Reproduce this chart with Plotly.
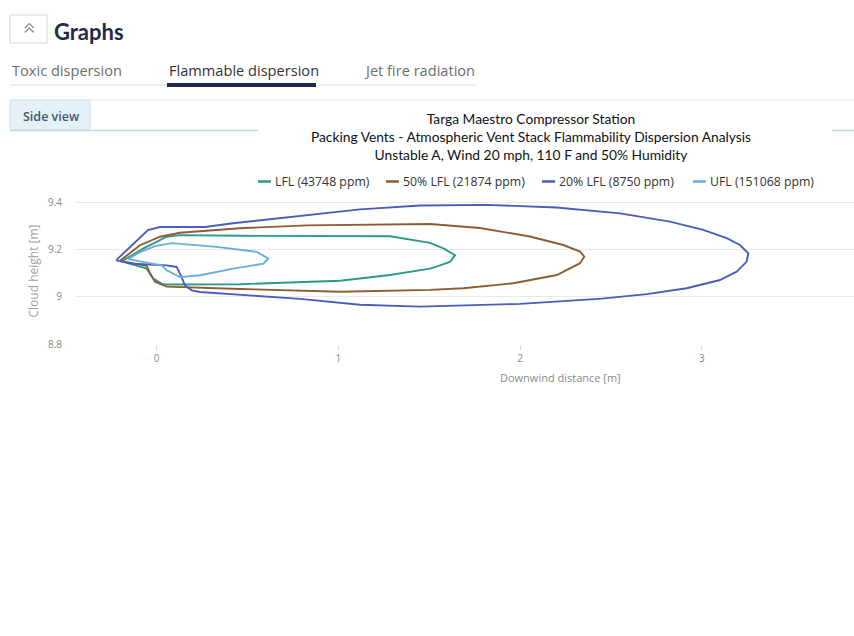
import plotly.graph_objects as go

# ---- contour data: downwind distance [m] vs cloud height [m] ----
series_names = ["LFL (43748 ppm)", "50% LFL (21874 ppm)", "20% LFL (8750 ppm)", "UFL (151068 ppm)"]
series_colors = ["#2a9a8a", "#8e5c33", "#4b5dba", "#67aedb"]

lfl_x = [-0.193, -0.074, 0.055, 0.128, 0.458, 1.284, 1.504, 1.578, 1.642, 1.614, 1.559, 1.504,
         1.284, 1.009, 0.458, 0.128, 0.036, -0.019, -0.055, -0.193]
lfl_y = [9.150, 9.204, 9.254, 9.261, 9.258, 9.256, 9.228, 9.205, 9.176, 9.147, 9.133, 9.119,
         9.092, 9.068, 9.053, 9.051, 9.052, 9.077, 9.119, 9.150]

lfl50_x = [-0.202, -0.092, 0.018, 0.128, 0.458, 0.826, 1.504, 1.779, 2.054, 2.238, 2.330, 2.353,
           2.330, 2.202, 1.963, 1.687, 1.504, 1.009, 0.458, 0.146, 0.055, -0.009, -0.037, -0.055, -0.202]
lfl50_y = [9.152, 9.218, 9.254, 9.271, 9.290, 9.302, 9.308, 9.291, 9.255, 9.219, 9.191, 9.170,
           9.142, 9.092, 9.057, 9.036, 9.029, 9.021, 9.033, 9.039, 9.043, 9.064, 9.099, 9.131, 9.152]

lfl20_x = [-0.224, -0.048, 0.018, 0.266, 0.420, 0.679, 1.119, 1.449, 1.816, 2.200, 2.550, 2.825,
           3.008, 3.137, 3.210, 3.256, 3.247, 3.192, 3.100, 2.917, 2.697, 2.450, 2.000, 1.449,
           1.119, 0.789, 0.514, 0.238, 0.193, 0.156, 0.128, 0.110, 0.055, -0.129, -0.224]
lfl20_y = [9.154, 9.282, 9.295, 9.295, 9.311, 9.333, 9.370, 9.386, 9.389, 9.378, 9.353, 9.318,
           9.283, 9.248, 9.219, 9.184, 9.149, 9.106, 9.071, 9.036, 9.011, 8.992, 8.970, 8.958,
           8.966, 8.991, 9.007, 9.020, 9.027, 9.048, 9.098, 9.126, 9.133, 9.140, 9.154]

ufl_x = [-0.158, -0.092, -0.009, 0.083, 0.330, 0.550, 0.614, 0.587, 0.422, 0.238, 0.128,
         0.055, 0.028, -0.037, -0.158]
ufl_y = [9.159, 9.189, 9.214, 9.227, 9.211, 9.190, 9.162, 9.140, 9.119, 9.091, 9.083,
         9.112, 9.133, 9.142, 9.159]

series_x = [lfl_x, lfl50_x, lfl20_x, ufl_x]
series_y = [lfl_y, lfl50_y, lfl20_y, ufl_y]

x_ticks = [0, 1, 2, 3]
y_ticks = [8.8, 9.0, 9.2, 9.4]
y_tick_text = ["8.8", "9", "9.2", "9.4"]

title_lines = ["Targa Maestro Compressor Station",
               "Packing Vents - Atmospheric Vent Stack Flammability Dispersion Analysis",
               "Unstable A, Wind 20 mph, 110 F and 50% Humidity"]
tab_labels = ["Toxic dispersion", "Flammable dispersion", "Jet fire radiation"]

# ---- page geometry (pixels) ----
W, H = 854, 636
L, R, T, B = 75, 0, 198, 292
PW = W - L - R
PH = H - T - B
BOTTOM = H - B


def fx(p):
    return (p - L) / PW


def fy(p):
    return (BOTTOM - p) / PH


fig = go.Figure()
for name, color, xs, ys in zip(series_names, series_colors, series_x, series_y):
    fig.add_trace(go.Scatter(x=xs, y=ys, mode="lines", name=name,
                             line=dict(color=color, width=1.9), showlegend=False,
                             hoverinfo="skip"))

shapes = []
annotations = []

# collapse button with double chevron
shapes.append(dict(type="rect", xref="paper", yref="paper", x0=fx(10), x1=fx(47), y0=fy(15), y1=fy(43),
                   line=dict(color="#c9d9e4", width=1), fillcolor="white", layer="above"))
for top in (23.5, 28.0):
    shapes.append(dict(type="path", xref="paper", yref="paper",
                       path="M %f,%f L %f,%f L %f,%f" % (fx(24.8), fy(top + 4.5), fx(29.3), fy(top),
                                                           fx(33.8), fy(top + 4.5)),
                       line=dict(color="#8a8a8a", width=1.2)))
annotations.append(dict(text="Graphs", xref="paper", yref="paper", x=fx(52), y=fy(31),
                        xanchor="left", yanchor="middle", showarrow=False,
                        font=dict(family="Lato", size=22, color="#1c2b4a", weight="bold")))

# tabs
shapes.append(dict(type="line", xref="paper", yref="paper", x0=fx(10), x1=fx(476), y0=fy(85), y1=fy(85),
                   line=dict(color="#eceff2", width=2)))
shapes.append(dict(type="rect", xref="paper", yref="paper", x0=fx(167), x1=fx(316), y0=fy(83), y1=fy(87),
                   line=dict(width=0), fillcolor="#1b2a4c"))
for label, xpos, col in zip(tab_labels, (10, 167, 362), ("#6e6e6e", "#333333", "#6e6e6e")):
    annotations.append(dict(text=label, xref="paper", yref="paper", x=fx(xpos), y=fy(70),
                            xanchor="left", yanchor="middle", showarrow=False,
                            font=dict(family="Open Sans", size=14.6, color=col)))

# side view selector strip
shapes.append(dict(type="line", xref="paper", yref="paper", x0=fx(10), x1=fx(854), y0=fy(100), y1=fy(100),
                   line=dict(color="#e2eaf0", width=1)))
shapes.append(dict(type="rect", xref="paper", yref="paper", x0=fx(10), x1=fx(90), y0=fy(100), y1=fy(130),
                   line=dict(color="#d2e1eb", width=1), fillcolor="#e6f0f7"))
shapes.append(dict(type="line", xref="paper", yref="paper", x0=fx(10), x1=fx(258), y0=fy(130.5), y1=fy(130.5),
                   line=dict(color="#c3d6e2", width=1.5)))
shapes.append(dict(type="line", xref="paper", yref="paper", x0=fx(832), x1=fx(854), y0=fy(130.5), y1=fy(130.5),
                   line=dict(color="#c3d6e2", width=1.5)))
annotations.append(dict(text="Side view", xref="paper", yref="paper", x=fx(21), y=fy(116),
                        xanchor="left", yanchor="middle", showarrow=False,
                        font=dict(family="Open Sans", size=12.5, color="#3b5878", weight=600)))

# legend (short line + label)
legend_x = [258, 386, 542, 693]
for name, color, lx in zip(series_names, series_colors, legend_x):
    shapes.append(dict(type="line", xref="paper", yref="paper", x0=fx(lx), x1=fx(lx + 13),
                       y0=fy(181.5), y1=fy(181.5), line=dict(color=color, width=2.5)))
    annotations.append(dict(text=name, xref="paper", yref="paper", x=fx(lx + 15), y=fy(181.5),
                            xanchor="left", yanchor="middle", showarrow=False,
                            font=dict(family="Open Sans", size=12.3, color="#333333")))

# x axis title
annotations.append(dict(text="Downwind distance [m]", xref="paper", yref="paper", x=fx(560), y=fy(377),
                        xanchor="center", yanchor="middle", showarrow=False,
                        font=dict(family="Open Sans", size=11, color="#8a8a8a")))

fig.update_layout(
    width=W, height=H,
    margin=dict(l=L, r=R, t=T, b=B, pad=0),
    paper_bgcolor="white", plot_bgcolor="white",
    title=dict(text="<br>".join(title_lines), xref="container", yref="container",
               x=531 / W, xanchor="center", y=1 - 124 / H, yanchor="top",
               font=dict(family="Lato", size=13.8, color="#111111")),
    xaxis=dict(range=[(L - 156.7) / 181.7, (W - 156.7) / 181.7], tickvals=x_ticks,
               showgrid=False, zeroline=False, showline=False,
               ticks="outside", ticklen=5, tickcolor="#dcdcdc",
               tickfont=dict(family="Open Sans", size=10, color="#8a8a8a")),
    yaxis=dict(range=[8.8, 9.418], tickvals=y_ticks, ticktext=y_tick_text,
               showgrid=True, gridcolor="#e9e9e9", gridwidth=1, zeroline=False, showline=False,
               ticks="", ticklabelstandoff=12,
               tickfont=dict(family="Open Sans", size=10, color="#8a8a8a"),
               title=dict(text="Cloud height [m]", standoff=6,
                          font=dict(family="Open Sans", size=12, color="#a0a0a0"))),
    shapes=shapes,
    annotations=annotations,
    showlegend=False,
)

fig.write_html("out.html")
